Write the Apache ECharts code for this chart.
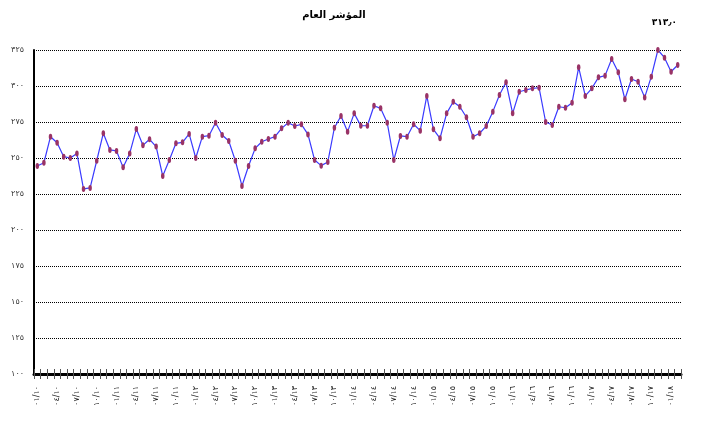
<!DOCTYPE html>
<html>
<head>
<meta charset="utf-8">
<script src="https://cdn.jsdelivr.net/npm/echarts@6/dist/echarts.min.js"></script>
<style>
  body { margin: 0; background: #fff; }
  #chart { width: 711px; height: 428px; }
</style>
</head>
<body>
<div id="chart"></div>
<script>
// monthly categories, ٠١/١٠ .. ٠٢/١٨
const months = [
  '٠١/١٠','٠٢/١٠','٠٣/١٠','٠٤/١٠','٠٥/١٠','٠٦/١٠','٠٧/١٠','٠٨/١٠','٠٩/١٠','١٠/١٠','١١/١٠','١٢/١٠',
  '٠١/١١','٠٢/١١','٠٣/١١','٠٤/١١','٠٥/١١','٠٦/١١','٠٧/١١','٠٨/١١','٠٩/١١','١٠/١١','١١/١١','١٢/١١',
  '٠١/١٢','٠٢/١٢','٠٣/١٢','٠٤/١٢','٠٥/١٢','٠٦/١٢','٠٧/١٢','٠٨/١٢','٠٩/١٢','١٠/١٢','١١/١٢','١٢/١٢',
  '٠١/١٣','٠٢/١٣','٠٣/١٣','٠٤/١٣','٠٥/١٣','٠٦/١٣','٠٧/١٣','٠٨/١٣','٠٩/١٣','١٠/١٣','١١/١٣','١٢/١٣',
  '٠١/١٤','٠٢/١٤','٠٣/١٤','٠٤/١٤','٠٥/١٤','٠٦/١٤','٠٧/١٤','٠٨/١٤','٠٩/١٤','١٠/١٤','١١/١٤','١٢/١٤',
  '٠١/١٥','٠٢/١٥','٠٣/١٥','٠٤/١٥','٠٥/١٥','٠٦/١٥','٠٧/١٥','٠٨/١٥','٠٩/١٥','١٠/١٥','١١/١٥','١٢/١٥',
  '٠١/١٦','٠٢/١٦','٠٣/١٦','٠٤/١٦','٠٥/١٦','٠٦/١٦','٠٧/١٦','٠٨/١٦','٠٩/١٦','١٠/١٦','١١/١٦','١٢/١٦',
  '٠١/١٧','٠٢/١٧','٠٣/١٧','٠٤/١٧','٠٥/١٧','٠٦/١٧','٠٧/١٧','٠٨/١٧','٠٩/١٧','١٠/١٧','١١/١٧','١٢/١٧',
  '٠١/١٨','٠٢/١٨'
]

// general index values
const indexValues = [
  244.4, 246.7, 264.8, 260.6, 250.9, 250.0, 253.2, 228.5, 229.2, 248.1, 267.2, 255.6,
  254.9, 243.5, 253.2, 270.1, 258.8, 263.0, 257.9, 237.5, 248.6, 260.2, 260.9, 266.7,
  250.0, 264.8, 265.5, 274.5, 266.0, 261.8, 248.1, 230.6, 244.4, 256.7, 261.3, 263.2,
  264.8, 270.6, 274.5, 272.2, 273.4, 266.4, 248.6, 244.7, 247.2, 271.0, 279.2, 268.3,
  281.0, 272.4, 272.4, 286.3, 284.5, 274.5, 248.6, 265.3, 264.8, 273.4, 269.0, 293.1,
  269.9, 263.7, 281.0, 289.1, 285.6, 278.3, 264.8, 267.2, 272.2, 282.2, 293.8, 302.6,
  281.0, 296.0, 297.2, 298.4, 298.8, 275.0, 272.9, 285.6, 284.9, 288.4, 313.0, 293.1,
  298.4, 306.0, 307.2, 318.8, 309.5, 290.8, 304.9, 303.0, 292.1, 306.5, 325.0, 319.7,
  309.9, 314.6
]

// y tick labels, from 100 up to 325
const yTickLabels = ['١٠٠','١٢٥','١٥٠','١٧٥','٢٠٠','٢٢٥','٢٥٠','٢٧٥','٣٠٠','٣٢٥']

const titleText = 'المؤشر العام'
const lastValueText = '٣١٣٫٠'

const chart = echarts.init(document.getElementById('chart'))

chart.setOption({
  animation: false,
  backgroundColor: '#fff',
  textStyle: { fontFamily: 'DejaVu Sans' },
  grid: { left: 34, right: 30, top: 50, bottom: 54 },
  graphic: [
    {
      type: 'text', x: 334, y: 15,
      style: {
        text: titleText, font: 'bold 10px "DejaVu Sans"', fill: '#000',
        align: 'center', verticalAlign: 'middle'
      }
    },
    {
      type: 'text', x: 677, y: 23,
      style: {
        text: lastValueText, font: 'bold 9px "DejaVu Sans"', fill: '#000',
        align: 'right', verticalAlign: 'middle'
      }
    }
  ],
  xAxis: [
    {
      type: 'category',
      data: months,
      boundaryGap: true,
      axisLine: { lineStyle: { color: '#000', width: 3 } },
      axisTick: { show: true, interval: 0, length: 5, lineStyle: { color: '#555' } },
      axisLabel: { interval: 2, rotate: 90, fontSize: 8, color: '#222', margin: 12 },
      splitLine: { show: false }
    },
    {
      // second copy only to draw the inner half of the ticks
      type: 'category',
      data: months,
      position: 'bottom',
      boundaryGap: true,
      axisLine: { show: false },
      axisTick: { show: true, inside: true, interval: 0, length: 5, lineStyle: { color: '#555' } },
      axisLabel: { show: false },
      splitLine: { show: false }
    }
  ],
  yAxis: {
    type: 'value',
    min: 100,
    max: 325,
    interval: 25,
    axisLine: { show: true, lineStyle: { color: '#000', width: 2 } },
    axisTick: { show: false },
    axisLabel: {
      fontSize: 8,
      color: '#333',
      margin: 10,
      formatter: v => yTickLabels[Math.round((v - 100) / 25)]
    },
    splitLine: { lineStyle: { color: '#000', type: [1, 1], width: 1 } }
  },
  series: [{
    type: 'line',
    data: indexValues,
    symbol: 'circle',
    symbolSize: [3.5, 6],
    showAllSymbol: true,
    itemStyle: { color: '#993366' },
    lineStyle: { color: '#3a3aff', width: 1.2 }
  }]
})
</script>
</body>
</html>
